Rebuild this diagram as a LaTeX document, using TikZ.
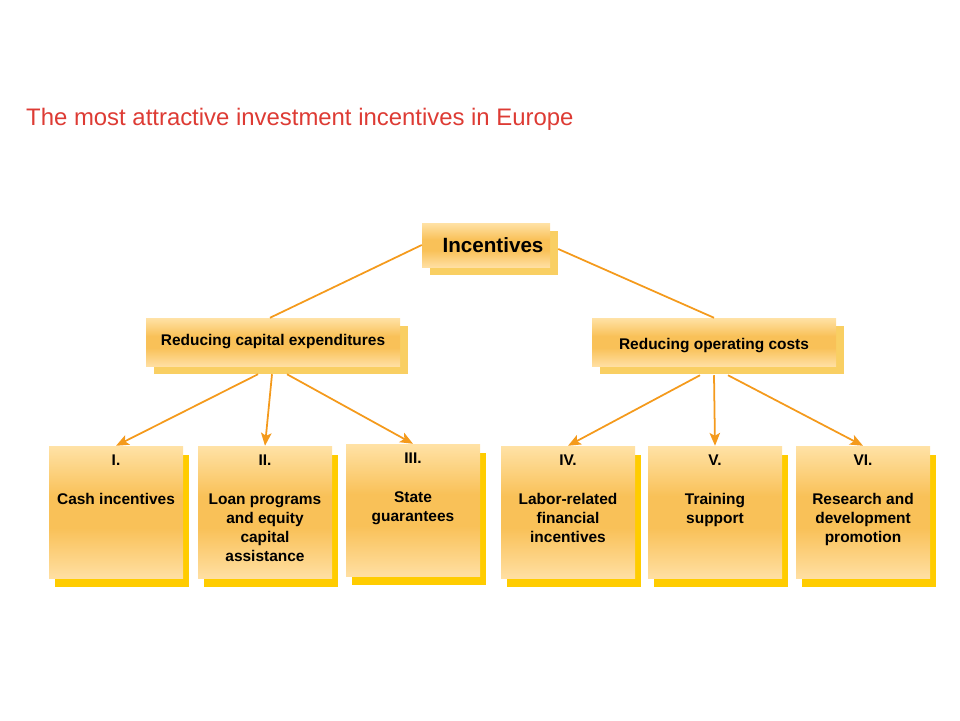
\documentclass[tikz,border=0pt]{standalone}
\usepackage{fontspec}
\setmainfont{Liberation Sans}
\usetikzlibrary{shadows,arrows.meta}
\definecolor{titlered}{HTML}{DD3B34}
\definecolor{linecol}{HTML}{F49A1C}
\definecolor{boxtop}{HTML}{FFE2A6}
\definecolor{boxmid}{HTML}{F9C158}
\definecolor{boxbot}{HTML}{FFDFA2}
\definecolor{shadelight}{HTML}{F9CF63}
\definecolor{shadeyel}{HTML}{FFCC00}
\pgfdeclareverticalshading{boxshade}{100bp}{color(0bp)=(boxbot); color(25bp)=(boxbot); color(44bp)=(boxmid); color(56bp)=(boxmid); color(75bp)=(boxtop); color(100bp)=(boxtop)}
\tikzset{
  boxfill/.style={draw=none,inner sep=0pt,shading=boxshade},
  headbox/.style={boxfill,general shadow={fill=shadelight,shadow xshift=8*0.03cm,shadow yshift=-8*0.03cm}},
  leafbox/.style={boxfill,minimum width=134*0.03cm,minimum height=132*0.03cm,
    general shadow={fill=shadeyel,shadow xshift=6*0.03cm,shadow yshift=-9*0.03cm}},
  leaftext/.style={anchor=north,inner sep=0pt,align=center,font=\bfseries\fontsize{13.2pt}{16.4pt}\selectfont},
  conn/.style={draw=linecol,line width=1.5pt},
  arr/.style={conn,-{Stealth[length=11pt,width=9pt,inset=2.5pt]}}
}
\begin{document}
\begin{tikzpicture}[x=0.03cm,y=-0.03cm]
  \useasboundingbox (0,0) rectangle (960,720);
  % title
  \node[anchor=west,inner sep=0pt,text=titlered,font=\fontsize{20.4pt}{24pt}\selectfont] (title) at (26,119) {The most attractive investment incentives in Europe};
  % top level
  \node[headbox,minimum width=128*0.03cm,minimum height=44*0.03cm,font=\bfseries\fontsize{17.6pt}{20pt}\selectfont] (inc) at (486,245) {\hspace{12pt}Incentives};
  % second level
  \node[headbox,minimum width=254*0.03cm,minimum height=48*0.03cm,font=\bfseries\fontsize{13.2pt}{16pt}\selectfont] (rce) at (273,342) {Reducing capital expenditures};
  \node[headbox,minimum width=244*0.03cm,minimum height=48*0.03cm,text height=16.4pt,text depth=2.8pt,font=\bfseries\fontsize{13.2pt}{16pt}\selectfont] (roc) at (714,342) {Reducing operating costs};
  \draw[conn] (inc.west) -- ([xshift=-3*0.03cm]rce.north);
  \draw[conn] ([xshift=8*0.03cm,yshift=-4*0.03cm]inc.east) -- (roc.north);
  % third level
  \foreach \n/\x/\y/\t in {1/116/512/{I.\\ \\Cash incentives},
      2/265/512/{II.\\ \\Loan programs\\and equity\\capital\\assistance},
      3/413/510/{III.\\ \\State\\guarantees},
      4/568/512/{IV.\\ \\Labor-related\\financial\\incentives},
      5/715/512/{V.\\ \\Training\\support},
      6/863/512/{VI.\\ \\Research and\\development\\promotion}}{
    \node[leafbox] (b\n) at (\x,\y) {};
    \node[leaftext] (t\n) at ([yshift=-9*0.03cm]b\n.north) {\t};
  }
  \draw[arr] ([xshift=-15*0.03cm,yshift=-8*0.03cm]rce.south) -- (b1.north);
  \draw[arr] ([xshift=-1*0.03cm,yshift=-8*0.03cm]rce.south) -- (b2.north);
  \draw[arr] ([xshift=14*0.03cm,yshift=-8*0.03cm]rce.south) -- (b3.north);
  \draw[arr] ([xshift=-14*0.03cm,yshift=-9*0.03cm]roc.south) -- (b4.north);
  \draw[arr] ([xshift=0*0.03cm,yshift=-9*0.03cm]roc.south) -- (b5.north);
  \draw[arr] ([xshift=14*0.03cm,yshift=-9*0.03cm]roc.south) -- (b6.north);
\end{tikzpicture}
\end{document}
